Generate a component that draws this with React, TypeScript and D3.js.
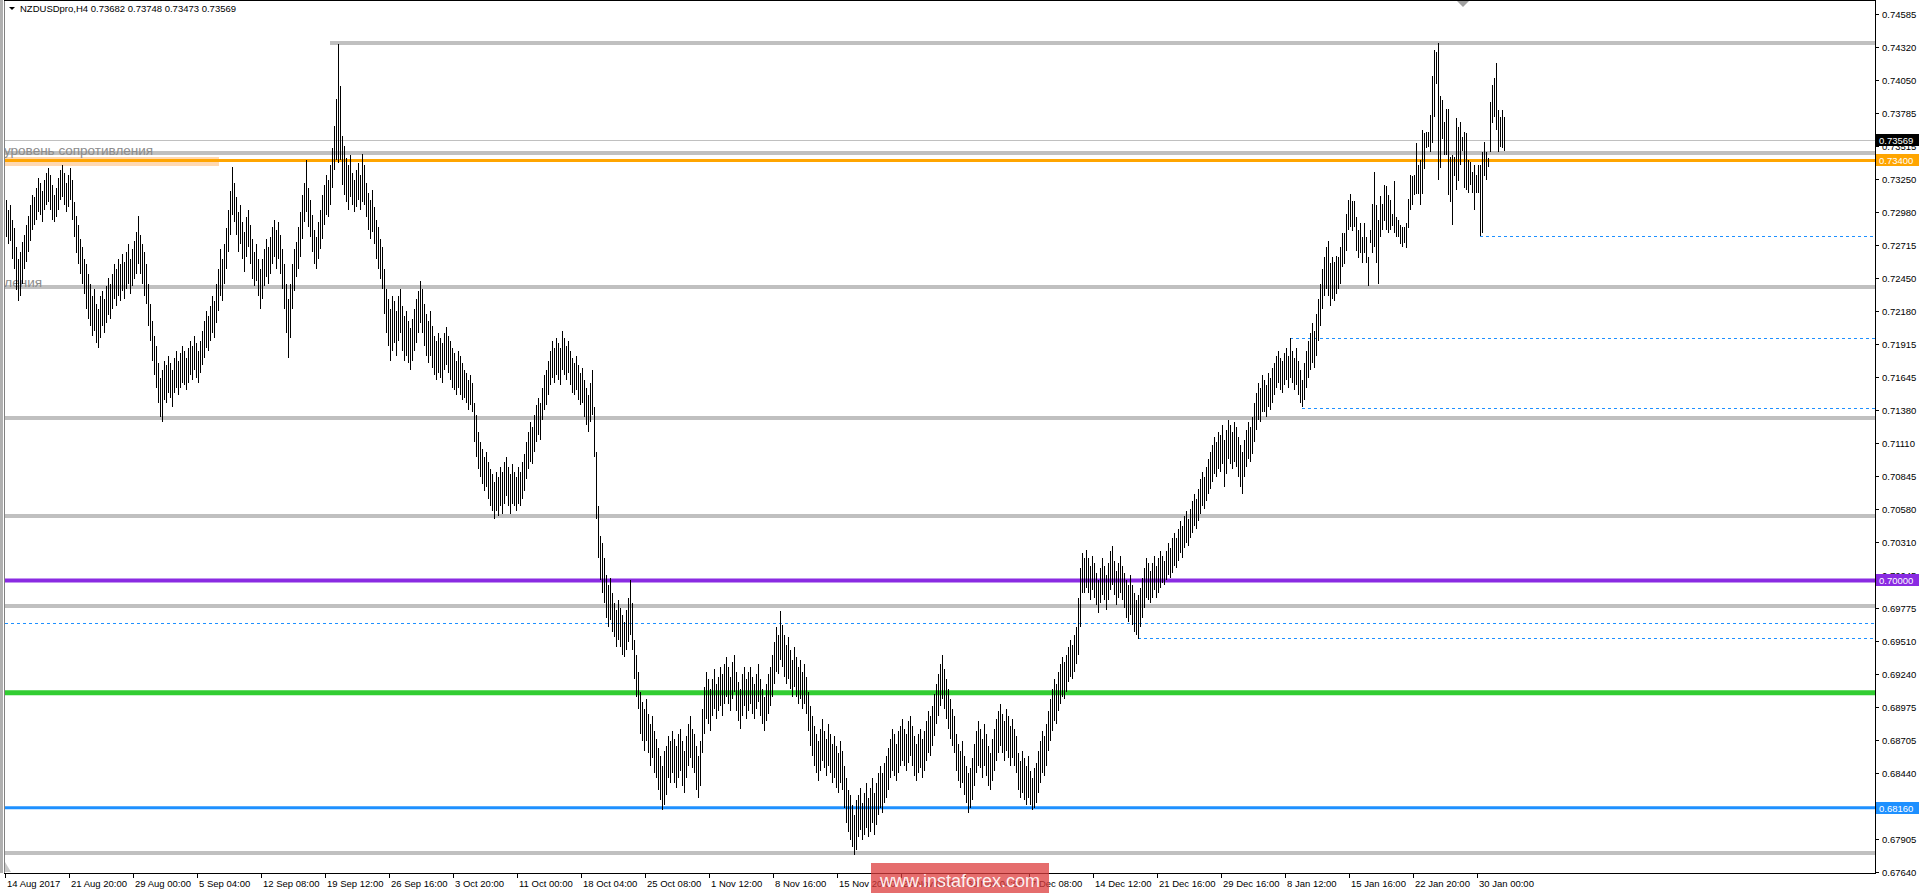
import React from 'react';
import * as d3 from 'd3';

const W = 1920;
const H = 894;
const BASE = 0.67;
const PIP = 0.0001;

// H4 bars: [high, low] in pips above 0.67000, oldest first (last bar at the right)
const bars: [number, number][] = [
  // 0
  [608,578],[600,572],[604,575],[592,560],[585,552],[570,535],[560,526],[566,530],[574,540],[580,552],[588,558],
  // 11
  [595,566],[604,575],[612,584],[610,588],[618,592],[626,598],[622,596],[615,590],[624,600],[630,604],
  // 21
  [634,606],[628,600],[620,592],[612,590],[618,594],[626,600],[632,608],[636,610],[630,604],[622,598],[628,602],[634,608],[624,592],
  // 34
  [606,578],[595,565],[588,556],[576,548],[570,540],[560,532],[556,520],
  // 41
  [548,512],[540,506],[530,498],[536,502],[524,492],[520,488],[530,496],
  // 48
  [534,506],[528,500],[538,508],[545,515],[540,512],[548,520],[556,528],[552,522],[560,530],[556,526],
  // 58
  [564,534],[558,528],[566,536],[572,540],[560,532],[568,538],[575,544],[582,548],[595,556],[580,548],[572,540],[566,530],[556,524],
  // 71
  [540,506],[524,494],[510,478],[498,466],[490,456],[476,444],[464,432],[470,428],
  // 79
  [478,446],[474,444],[482,452],[476,448],[470,440],[480,452],[486,456],[478,450],[484,456],[490,460],
  // 89
  [486,458],[480,454],[488,460],[494,466],[490,462],[498,470],[492,464],[486,460],[494,468],[502,474],
  // 99
  [510,480],[518,488],[514,486],[522,494],[530,500],[526,496],
  // 105
  [540,508],[552,518],[568,530],[560,526],[572,540],[585,552],
  // 111
  [600,566],[615,580],[635,596],[622,590],
  // 115
  [610,580],[598,566],[604,572],[590,560],[582,550],[594,562],[600,570],[588,556],[576,544],
  // 124
  [566,538],[572,542],[560,530],[552,520],[560,528],[568,538],[576,546],[570,540],[578,548],
  // 133
  [586,556],[592,562],[584,552],[590,560],[580,548],[568,536],[556,520],[540,500],[528,480],[540,496],
  // 143
  [556,520],[568,534],[574,546],[586,552],[598,562],
  // 148
  [612,576],[622,590],[640,598],[618,586],[608,578],
  // 153
  [596,566],[584,556],[578,552],[590,560],[600,568],
  // 158
  [612,576],[620,588],[628,596],[624,594],[636,604],
  // 163
  [650,618],[668,632],[690,640],[734,638],[700,640],
  // 168
  [660,620],[652,612],[642,606],[636,600],[644,610],
  // 173
  [630,604],[624,598],[632,602],[638,608],[628,600],[645,606],
  // 179
  [636,604],[622,594],[614,584],[608,576],[616,582],[602,572],
  // 185
  [592,560],[586,552],[576,544],[570,536],
  // 189
  [552,516],[536,500],[528,490],[520,478],[530,486],
  // 194
  [526,492],[518,482],[530,494],[536,500],[522,486],[514,478],
  // 200
  [518,482],[510,476],[504,470],[512,478],[520,486],[528,492],
  // 206
  [534,500],[542,508],[536,500],
  // 209
  [524,490],[516,482],[510,476],[518,482],[506,472],
  // 214
  [498,466],[494,462],[500,468],[496,464],[492,460],
  // 219
  [500,470],[505,474],[498,468],[494,462],[488,456],
  // 224
  [484,454],[478,450],[486,456],[482,450],[476,446],[470,448],
  // 230
  [468,444],[462,438],[466,442],[460,436],
  // 234
  [444,412],[434,400],[420,390],[412,384],
  // 238
  [406,378],[400,372],[404,376],[396,366],[390,360],
  // 243
  [386,356],[380,350],[388,356],[384,352],[392,360],[388,354],
  // 249
  [396,362],[400,368],[392,360],[386,354],[394,362],
  // 254
  [388,360],[384,356],[392,362],[388,360],[396,366],[402,372],
  // 260
  [412,382],[420,390],[428,396],[424,394],
  // 264
  [434,404],[442,412],[448,418],[444,414],
  // 268
  [456,430],[466,438],[470,442],
  // 271
  [478,450],[486,458],[494,464],[488,460],[496,466],[492,462],[488,458],[502,470],
  // 279
  [496,466],[490,462],[494,468],[486,458],[480,452],
  // 284
  [476,450],[482,454],[474,446],[468,442],[472,444],
  // 289
  [462,432],[456,426],[450,420],[460,428],[470,434],
  // 294
  [440,400],[404,350],[360,318],[336,300],[330,290],
  // 299
  [318,282],[304,270],[296,262],[302,268],
  // 303
  [290,258],[282,254],[276,246],[284,252],[278,246],
  // 308
  [272,240],[266,238],[276,244],[286,250],
  // 312
  [300,256],[282,244],
  // 314
  [252,220],[240,206],[226,196],
  // 317
  [210,176],[202,170],[196,162],[204,170],[192,160],
  // 322
  [184,150],[190,156],[178,144],[172,140],
  // 326
  [164,130],[158,122],[150,114],[162,118],[166,126],
  // 331
  [174,140],[170,136],[178,144],
  // 334
  [172,136],[166,132],[176,140],[180,146],[170,134],[162,128],
  // 340
  [174,140],[184,150],[190,156],[180,148],[176,144],
  // 345
  [166,130],[158,124],[170,134],
  // 348
  [196,160],[214,176],[226,188],[220,184],[212,178],
  // 353
  [220,190],[228,196],[216,188],[222,194],[230,198],[224,190],
  // 359
  [232,200],[238,206],[230,200],[222,194],[234,204],[240,210],
  // 365
  [226,194],[218,186],[212,180],[224,190],[230,198],[220,188],
  // 371
  [226,194],[230,200],[222,192],[216,188],[224,196],[232,202],
  // 377
  [220,190],[212,184],[206,178],[216,186],[224,192],[230,198],
  // 383
  [240,206],[250,216],[262,226],[256,224],[275,236],[264,230],
  // 389
  [256,222],[248,216],[254,220],[244,212],[236,206],[246,214],
  // 395
  [238,206],[230,200],[236,204],[226,196],[232,200],[222,192],
  // 401
  [210,178],[198,166],[190,158],[182,150],[176,144],[170,138],
  // 407
  [180,146],[188,154],[178,148],[172,142],[184,150],[176,144],
  // 413
  [168,136],[174,140],[166,132],[160,128],[170,136],[162,130],
  // 419
  [150,116],[140,104],[130,96],[126,90],[118,84],[110,78],[122,82],
  // 426
  [126,92],[132,98],[120,90],[128,94],[136,100],[124,92],
  // 432
  [132,96],[140,104],[128,94],[136,102],[144,110],
  // 437
  [150,116],[144,112],[152,120],[158,124],[164,130],
  // 442
  [172,140],[180,146],[176,142],[168,138],[178,144],[182,150],
  // 448
  [188,154],[180,150],[176,146],[186,152],[190,158],[182,150],
  // 454
  [174,142],[168,138],[176,144],[180,148],[172,140],[178,146],
  // 460
  [186,154],[194,160],[190,158],[198,166],
  // 464
  [208,174],[216,184],[224,190],[232,198],[240,204],[228,196],
  // 470
  [220,188],[212,180],[204,172],[196,166],[190,160],
  // 475
  [176,146],[168,138],[162,132],[170,136],[158,126],
  // 480
  [150,120],[144,112],[148,116],[156,122],
  // 484
  [168,134],[178,144],[186,150],[180,148],[172,140],[184,150],
  // 490
  [176,142],[166,134],[160,130],[172,138],[180,146],[188,154],
  // 496
  [194,160],[200,166],[192,160],[186,154],[196,162],
  // 501
  [190,156],[182,150],[188,156],[180,150],[174,144],
  // 506
  [160,130],[154,124],[162,128],[156,122],[150,118],[158,124],
  // 512
  [146,118],[140,114],[148,116],[152,120],
  // 516
  [162,128],[170,136],[178,144],[174,142],[184,150],
  // 521
  [194,162],[204,170],[212,178],[220,186],[216,184],
  // 526
  [226,194],[232,200],[238,206],[234,204],[240,210],
  // 531
  [246,218],[252,222],[248,220],[256,226],[262,232],
  // 536
  [286,240],[310,262],[322,290],[318,290],
  // 540
  [325,294],[318,290],[312,284],[320,292],[314,286],
  // 545
  [306,280],[300,274],[310,282],[318,288],[312,284],[304,276],
  // 551
  [314,284],[324,292],[328,296],[316,288],[308,280],[314,286],
  // 557
  [320,290],[312,284],[306,278],[300,270],[296,266],
  // 562
  [304,272],[296,264],[290,258],[284,256],[288,253],
  // 567
  [294,262],[302,270],[310,278],[318,286],[314,284],
  // 572
  [308,282],[314,286],[320,292],[312,286],[318,290],[324,294],
  // 578
  [320,298],[316,296],[324,300],[330,304],[326,302],[334,306],
  // 584
  [338,312],[334,310],[342,316],[348,322],[344,318],[352,326],
  // 590
  [356,330],[350,328],[358,334],[364,338],[370,344],[366,342],
  // 596
  [374,348],[382,354],[388,360],[384,358],[392,364],[398,370],
  // 602
  [404,374],[410,380],[416,386],[412,384],[420,390],[418,388],
  // 608
  [426,394],[414,376],[422,386],[430,398],[426,394],
  // 613
  [420,390],[428,396],[424,392],[416,384],[410,376],[404,370],
  // 619
  [414,384],[422,392],[428,398],[424,396],[432,402],
  // 624
  [444,412],[452,422],[460,430],[456,428],[466,436],
  // 629
  [462,436],[458,432],[468,440],[464,438],[472,444],
  // 634
  [476,450],[482,456],[486,460],[480,454],[478,452],[484,458],
  // 640
  [488,462],[482,456],[496,464],[486,460],[480,454],[488,458],
  // 646
  [478,450],[470,444],[462,440],[476,446],[486,456],
  // 651
  [494,464],[500,470],[508,476],[502,472],[516,482],[528,494],[540,506],[552,520],
  // 659
  [562,530],[570,536],[575,530],[557,522],[562,528],[558,526],[563,532],[562,536],[570,540],
  // 668
  [581,554],[581,556],[597,567],[608,584],[613,586],[607,583],[607,586],[594,567],[584,561],[589,565],[578,557],[589,565],[578,557],[562,538],
  // 682
  [584,573],[605,565],[631,570],[604,557],[592,540],[611,578],[605,584],[620,591],[619,584],[612,581],[608,584],[597,587],[623,581],[594,578],[592,578],[588,572],[586,570],[586,573],[589,569],
  // 701
  [609,585],[628,600],[627,604],[628,612],[654,613],[636,613],[640,604],[665,613],[662,633],[663,650],[663,651],[677,647],[708,654],[729,675],[728,702],[735,624],[692,634],
  // 718
  [689,657],[671,644],[682,644],[682,612],[643,606],[644,588],[643,627],[674,616],[667,623],[671,636],[659,648],[663,618],[662,616],[640,614],[639,620],[631,614],
  // 734
  [636,600],[628,614],[636,614],[636,579],[647,581],[655,627],[647,624],[642,635],[687,647],[701,670],[707,675],[719,665],[681,647],[675,651],[681,650],[675,648],
];

const priceTicks = [
  0.74585, 0.7432, 0.7405, 0.73785, 0.73515, 0.7325, 0.7298, 0.72715, 0.7245,
  0.7218, 0.71915, 0.71645, 0.7138, 0.7111, 0.70845, 0.7058, 0.7031, 0.70045,
  0.69775, 0.6951, 0.6924, 0.68975, 0.68705, 0.6844, 0.68175, 0.67905, 0.6764,
];

const timeLabels = [
  '14 Aug 2017', '21 Aug 20:00', '29 Aug 00:00', '5 Sep 04:00', '12 Sep 08:00',
  '19 Sep 12:00', '26 Sep 16:00', '3 Oct 20:00', '11 Oct 00:00', '18 Oct 04:00',
  '25 Oct 08:00', '1 Nov 12:00', '8 Nov 16:00', '15 Nov 20:00', '23 Nov 00:00',
  '30 Nov 04:00', '7 Dec 08:00', '14 Dec 12:00', '21 Dec 16:00', '29 Dec 16:00',
  '8 Jan 12:00', '15 Jan 16:00', '22 Jan 20:00', '30 Jan 00:00',
];

// gray support/resistance levels spanning the whole chart
const grayLevels = [0.7346, 0.72375, 0.71315, 0.70521, 0.69793, 0.67793];
// gray level beginning at a given bar
const topGrayLevel = 0.7435;
const topGrayStartBar = 162;

// dashed blue levels: [price, start bar] (start bar -1 = from the left edge)
const dashedLevels: [number, number][] = [
  [0.72788, 737],
  [0.71962, 642],
  [0.71396, 648],
  [0.69655, -1],
  [0.69534, 566],
];

const colorLevels = [
  { price: 0.734, color: '#FFA500', width: 3, label: '0.73400' },
  { price: 0.7, color: '#8A2BE2', width: 4, label: '0.70000' },
  { price: 0.6909, color: '#32CD32', width: 5, label: '' },
  { price: 0.6816, color: '#1E90FF', width: 3, label: '0.68160' },
];

const bidPrice = 0.73569;
const headerText = 'NZDUSDpro,H4  0.73682 0.73748 0.73473 0.73569';
const levelText = 'уровень сопротивления';
const watermark = 'www.instaforex.com';

const FONT = '"Liberation Sans", Arial, sans-serif';

export default function App() {
  const left = 5;
  const right = 1875;
  const top = 1;
  const bottom = 873;
  const n = bars.length;
  const lastX = 1504;

  const y = d3.scaleLinear().domain([0.6764, 0.74585]).range([872, 14]);
  const x = d3.scaleLinear().domain([0, n - 1]).range([lastX - 2 * (n - 1), lastX]);
  const p = (v: number) => BASE + v * PIP;

  const tickX = (k: number) => 5 + 64 * k;

  const labelBox = (price: number, bg: string, text: string, fg: string) => {
    const yy = Math.round(y(price));
    return (
      <g key={text + bg}>
        <rect x={1876} y={yy - 6} width={43} height={12} fill={bg} />
        <text x={1879} y={yy + 4} fontSize={9.5} fill={fg} fontFamily={FONT}>{text}</text>
      </g>
    );
  };

  return (
    <svg
      width={W}
      height={H}
      style={{ position: 'absolute', left: 0, top: 0, background: '#fff', display: 'block' }}
    >
      <defs>
        <clipPath id="plot">
          <rect x={left} y={top} width={right - left} height={bottom - top} />
        </clipPath>
      </defs>
      <rect x={0} y={0} width={W} height={H} fill="#fff" />

      <g clipPath="url(#plot)">
        {/* peach zone */}
        <rect x={4} y={157} width={215} height={9} fill="#FFD8B0" />

        {/* gray levels */}
        {grayLevels.map((g) => (
          <line key={g} x1={left} x2={right} y1={y(g)} y2={y(g)} stroke="#C0C0C0" strokeWidth={4} />
        ))}
        <line x1={x(topGrayStartBar)} x2={right} y1={y(topGrayLevel)} y2={y(topGrayLevel)} stroke="#C0C0C0" strokeWidth={4} />

        {/* dashed levels */}
        {dashedLevels.map(([pr, sb]) => (
          <line
            key={pr}
            x1={sb < 0 ? left : x(sb)}
            x2={right}
            y1={Math.round(y(pr)) + 0.5}
            y2={Math.round(y(pr)) + 0.5}
            stroke="#1E90FF"
            strokeWidth={1}
            strokeDasharray="3,3"
          />
        ))}

        {/* texts */}
        <text x={4} y={155} fontSize={13.5} fill="#8c8c8c" fontFamily={FONT}>{levelText}</text>
        <text x={42} y={287} fontSize={13.5} fill="#8c8c8c" fontFamily={FONT} textAnchor="end">{levelText}</text>

        {/* bid line */}
        <line x1={left} x2={right} y1={Math.round(y(bidPrice)) + 0.5} y2={Math.round(y(bidPrice)) + 0.5} stroke="#C0C0C0" strokeWidth={1} />

        {/* colored levels */}
        {colorLevels.map((c) => (
          <line key={c.price} x1={left} x2={right + 5} y1={y(c.price)} y2={y(c.price)} stroke={c.color} strokeWidth={c.width} />
        ))}

        {/* bars */}
        {bars.map(([h, l], i) => {
          const yh = Math.round(y(p(h)));
          const yl = Math.round(y(p(l)));
          return <rect key={i} x={Math.round(x(i))} y={yh} width={1} height={Math.max(1, yl - yh)} fill="#000" />;
        })}
      </g>

      {/* frame */}
      <rect x={0} y={0} width={3} height={bottom} fill="#B0B0B0" />
      <line x1={4.5} x2={4.5} y1={0} y2={bottom} stroke="#808080" strokeWidth={1} />
      <line x1={4} x2={right} y1={0.5} y2={0.5} stroke="#000" strokeWidth={1} />
      <line x1={right + 0.5} x2={right + 0.5} y1={0} y2={bottom + 1} stroke="#000" strokeWidth={1} />
      <line x1={4} x2={right + 1} y1={bottom + 0.5} y2={bottom + 0.5} stroke="#000" strokeWidth={1} />
      <polygon points={`5,862 5,872 11,872`} fill="#C8C8C8" />
      <polygon points={`1457,1 1469,1 1463,7`} fill="#A0A0A0" />

      {/* header */}
      <polygon points="9,7 15,7 12,10" fill="#000" />
      <text x={20} y={12} fontSize={9.5} fill="#000" fontFamily={FONT}>{headerText}</text>

      {/* price axis */}
      {priceTicks.map((t) => {
        const yy = Math.round(y(t)) + 0.5;
        return (
          <g key={t}>
            <line x1={right} x2={right + 4} y1={yy} y2={yy} stroke="#000" />
            <text x={1882} y={yy + 3.5} fontSize={9.5} fill="#000" fontFamily={FONT}>{t.toFixed(5)}</text>
          </g>
        );
      })}
      {labelBox(bidPrice, '#000', bidPrice.toFixed(5), '#fff')}
      {colorLevels.filter((c) => c.label).map((c) => labelBox(c.price, c.color, c.label, '#fff'))}

      {/* time axis */}
      {timeLabels.map((t, k) => (
        <g key={t}>
          <line x1={tickX(k) + 0.5} x2={tickX(k) + 0.5} y1={bottom} y2={bottom + 5} stroke="#000" />
          <text x={tickX(k) + 2} y={887} fontSize={9.5} fill="#000" fontFamily={FONT}>{t}</text>
        </g>
      ))}

      {/* watermark */}
      <rect x={871} y={863} width={178} height={30} fill="#DC3C3C" opacity={0.75} />
      <text x={960} y={887} fontSize={18} fill="#fff" fillOpacity={0.92} fontFamily={FONT} textAnchor="middle">{watermark}</text>
    </svg>
  );
}
